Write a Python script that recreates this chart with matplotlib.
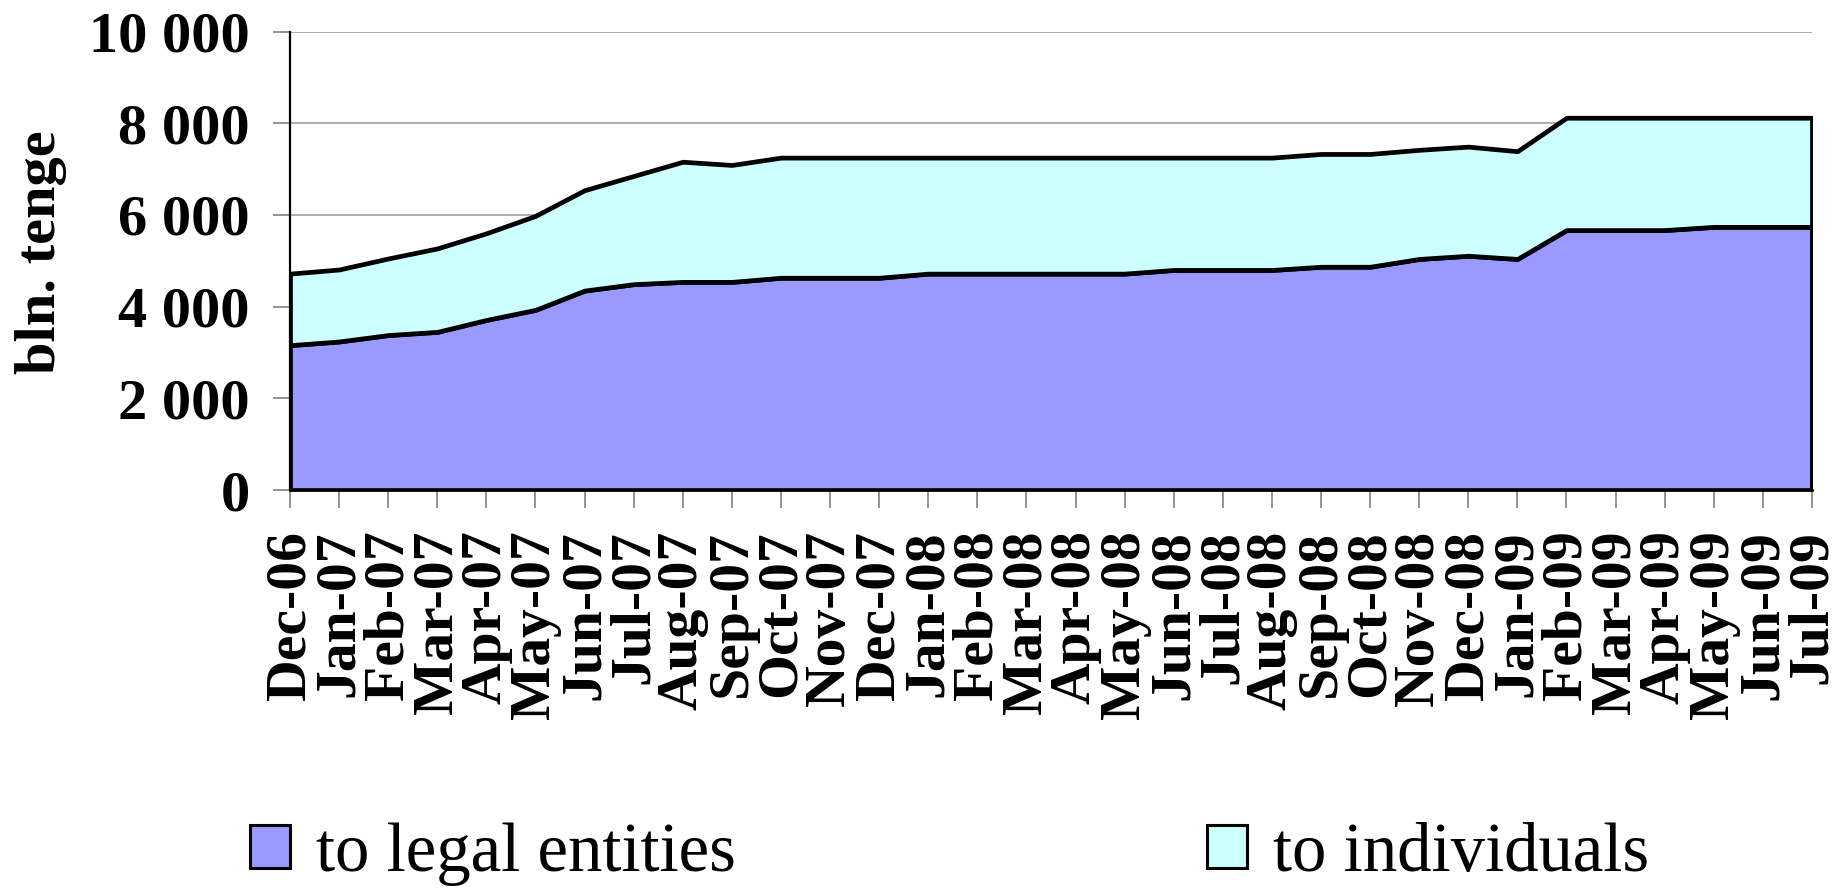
import matplotlib.pyplot as plt
from matplotlib.patches import Patch

# monthly loan stock, bln. tenge
months = ['Dec-06', 'Jan-07', 'Feb-07', 'Mar-07', 'Apr-07', 'May-07', 'Jun-07', 'Jul-07',
          'Aug-07', 'Sep-07', 'Oct-07', 'Nov-07', 'Dec-07', 'Jan-08', 'Feb-08', 'Mar-08',
          'Apr-08', 'May-08', 'Jun-08', 'Jul-08', 'Aug-08', 'Sep-08', 'Oct-08', 'Nov-08',
          'Dec-08', 'Jan-09', 'Feb-09', 'Mar-09', 'Apr-09', 'May-09', 'Jun-09', 'Jul-09']
legal_entities = [3160, 3240, 3380, 3450, 3710, 3930, 4350, 4490, 4540, 4540, 4630, 4630,
                  4630, 4720, 4720, 4720, 4720, 4720, 4800, 4800, 4800, 4870, 4870, 5040,
                  5110, 5040, 5670, 5670, 5670, 5740, 5740, 5740]
individuals = [1560, 1570, 1670, 1820, 1890, 2050, 2190, 2360, 2620, 2550, 2620, 2620,
               2620, 2530, 2530, 2530, 2530, 2530, 2450, 2450, 2450, 2460, 2460, 2380,
               2380, 2350, 2450, 2450, 2450, 2380, 2380, 2380]
series_names = ['to legal entities', 'to individuals']
y_ticks = [0, 2000, 4000, 6000, 8000, 10000]
y_tick_labels = ['0', '2 000', '4 000', '6 000', '8 000', '10 000']

fill_colors = ['#9999FF', '#CCFFFF']
serif = 'Liberation Serif'

fig = plt.figure(figsize=(18.39, 8.96), dpi=100)
ax = fig.add_axes([0.1577, 0.4531, 0.8276, 0.5117])

x = list(range(len(months)))
ax.stackplot(x, legal_entities, individuals, colors=fill_colors,
             edgecolor='black', linewidth=3.4, zorder=3)

ax.set_xlim(0, len(months) - 1)
ax.set_ylim(0, 10000)
ax.set_yticks(y_ticks)
ax.set_yticklabels(y_tick_labels, fontfamily=serif, fontweight='bold', fontsize=42)
ax.set_xticks(x)
ax.set_xticklabels(months, rotation=90, fontfamily=serif, fontweight='bold', fontsize=41.5)

ax.yaxis.grid(True, color='#a0a0a0', linewidth=1.2, zorder=0)
ax.set_axisbelow(True)
ax.tick_params(axis='y', length=12, width=1.2, color='#808080', pad=17)
ax.tick_params(axis='x', length=13, width=1.2, color='#808080', pad=16)

for side in ['top', 'right']:
    ax.spines[side].set_visible(False)
ax.spines['left'].set_linewidth(1.6)
ax.spines['bottom'].set_linewidth(2.0)

fig.text(41 / 1839, 1 - 252 / 896, 'bln. tenge', rotation=90, ha='center', va='center',
         fontfamily=serif, fontweight='bold', fontsize=42)

handles = [Patch(facecolor=c, edgecolor='black', linewidth=2.2) for c in fill_colors]
fig.legend(handles, series_names, loc='center left', bbox_to_anchor=(250 / 1839, 1 - 854 / 896),
           ncol=2, frameon=False, borderpad=0, borderaxespad=0,
           handlelength=0.58, handleheight=0.6, handletextpad=0.38, columnspacing=6.85,
           prop={'family': serif, 'size': 49.5})

fig.savefig('out.png', dpi=100)
